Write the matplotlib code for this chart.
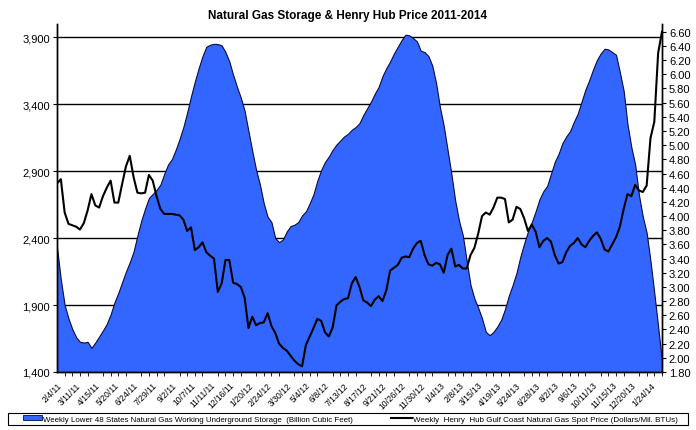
import numpy as np
import pandas as pd
import matplotlib
matplotlib.use("Agg")
import matplotlib.pyplot as plt
from matplotlib.ticker import FuncFormatter, MultipleLocator, FixedLocator
from matplotlib.patches import Patch, Rectangle
from matplotlib.lines import Line2D

plt.rcParams['font.family'] = ['Liberation Sans', 'DejaVu Sans']

# weekly dates, Fridays from 2/4/11 to 2/14/14
dates = pd.date_range('2011-02-04', '2014-02-14', freq='7D')

# working gas in storage, lower 48 (Bcf)
storage = [
    2330, 2090, 1900, 1800, 1720, 1660, 1625, 1620, 1625, 1580,
    1620, 1665, 1710, 1760, 1830, 1920, 1990, 2070, 2150, 2220,
    2300, 2420, 2530, 2620, 2700, 2730, 2760, 2800, 2880, 2950,
    2990, 3060, 3140, 3230, 3340, 3460, 3570, 3670, 3760, 3830,
    3845, 3852, 3850, 3840, 3790, 3720, 3620, 3530, 3450, 3350,
    3200, 3050, 2910, 2800, 2660, 2560, 2520, 2400, 2370, 2390,
    2450, 2490, 2500, 2520, 2570, 2600, 2660, 2730, 2830, 2910,
    2970, 3010, 3060, 3100, 3130, 3160, 3180, 3210, 3230, 3260,
    3320, 3370, 3420, 3480, 3530, 3610, 3670, 3720, 3780, 3830,
    3880, 3920, 3915, 3895, 3870, 3800, 3790, 3760, 3690, 3560,
    3380, 3240, 3060, 2880, 2680, 2530, 2420, 2230, 2050, 1950,
    1880, 1800, 1700, 1675, 1700, 1740, 1790, 1870, 1970, 2050,
    2140, 2260, 2360, 2450, 2520, 2600, 2690, 2750, 2790, 2880,
    2970, 3030, 3110, 3160, 3200, 3270, 3330, 3420, 3510, 3580,
    3660, 3730, 3780, 3815, 3810, 3790, 3770, 3640, 3500, 3250,
    3080, 2950, 2720, 2560, 2440, 2230, 1990, 1740, 1475,
]

# Henry Hub spot price ($/MMBtu)
price = [
    4.46, 4.52, 4.05, 3.89, 3.87, 3.85, 3.81, 3.90, 4.08, 4.31,
    4.15, 4.12, 4.28, 4.40, 4.50, 4.19, 4.19, 4.45, 4.70, 4.85,
    4.55, 4.33, 4.32, 4.33, 4.58, 4.50, 4.28, 4.10, 4.03, 4.03,
    4.03, 4.02, 4.01, 3.95, 3.79, 3.84, 3.52, 3.56, 3.63, 3.49,
    3.44, 3.40, 2.93, 3.05, 3.38, 3.38, 3.06, 3.04, 3.00, 2.85,
    2.42, 2.58, 2.46, 2.49, 2.50, 2.63, 2.45, 2.35, 2.20, 2.14,
    2.10, 2.03, 1.96, 1.91, 1.88, 2.18, 2.30, 2.42, 2.55, 2.52,
    2.36, 2.30, 2.43, 2.74, 2.79, 2.83, 2.84, 3.05, 3.14, 3.00,
    2.81, 2.78, 2.73, 2.82, 2.87, 2.80, 2.95, 3.23, 3.27, 3.31,
    3.41, 3.43, 3.42, 3.54, 3.62, 3.65, 3.45, 3.32, 3.30, 3.34,
    3.32, 3.20, 3.45, 3.54, 3.29, 3.31, 3.26, 3.26, 3.45, 3.55,
    3.75, 4.00, 4.05, 4.02, 4.12, 4.26, 4.26, 4.24, 3.91, 3.95,
    4.13, 4.10, 3.97, 3.79, 3.88, 3.78, 3.56, 3.65, 3.69, 3.64,
    3.45, 3.33, 3.35, 3.49, 3.58, 3.62, 3.69, 3.60, 3.56, 3.65,
    3.72, 3.77, 3.68, 3.53, 3.50, 3.60, 3.70, 3.85, 4.10, 4.31,
    4.28, 4.44, 4.36, 4.34, 4.43, 5.10, 5.33, 6.30, 6.60,
]

label_every = 5
tick_labels = ['%d/%d/%s' % (d.month, d.day, d.strftime('%y')) for d in dates]

x = np.arange(len(dates))

fig = plt.figure(figsize=(6.96, 4.31), dpi=100)
ax = fig.add_axes([0.0819, 0.1346, 0.8692, 0.8074])
ax2 = ax.twinx()

# storage area (left axis)
ax.fill_between(x, 1400, storage, facecolor='#3366FF', edgecolor='#0A0A40',
                linewidth=0.8, zorder=2)
ax.set_ylim(1400, 4000)
ax.set_xlim(0, len(x) - 1)
ax.yaxis.set_major_locator(FixedLocator([1400, 1900, 2400, 2900, 3400, 3900]))
ax.yaxis.set_major_formatter(FuncFormatter(lambda v, p: '{:,.0f}'.format(v)))
ax.grid(axis='y', color='black', linewidth=1.0, zorder=0)
ax.set_axisbelow(True)

# price line (right axis)
ax2.plot(x, price, color='black', linewidth=1.5, zorder=3)
ax2.set_ylim(1.80, 6.71)
ax2.yaxis.set_major_locator(MultipleLocator(0.20))
ax2.yaxis.set_major_formatter(FuncFormatter(lambda v, p: '%.2f' % v))

# x axis: label every 5 weeks, small ticks every 2 weeks
lab_pos = x[::label_every]
ax.set_xticks(lab_pos)
ax.set_xticklabels([tick_labels[i] for i in lab_pos], rotation=45, ha='right',
                   rotation_mode='anchor', fontsize=6.2)
ax.xaxis.set_minor_locator(MultipleLocator(2))
ax.tick_params(axis='x', which='major', length=0, pad=6)
ax.tick_params(axis='x', which='minor', length=3, direction='out')
ax.tick_params(axis='y', length=3, labelsize=8, pad=2)
ax2.tick_params(axis='y', length=3, labelsize=8, pad=2)

for a in (ax, ax2):
    a.spines['top'].set_visible(False)
    for s in ('left', 'right', 'bottom'):
        a.spines[s].set_linewidth(1.0)
        a.spines[s].set_color('black')

fig.text(0.5, 0.962, 'Natural Gas Storage & Henry Hub Price 2011-2014',
         ha='center', va='center', fontsize=8.5, fontweight='bold')

# legend: box drawn separately, entries placed inside
W, H = 696.0, 431.0
fig.patches.append(Rectangle((8 / W, 5 / H), 680 / W, 12 / H, transform=fig.transFigure,
                             facecolor='white', edgecolor='black', linewidth=0.8))
handles = [
    Patch(facecolor='#3366FF', edgecolor='#0A0A40', linewidth=0.6),
    Line2D([0], [0], color='black', linewidth=1.5),
]
labels = [
    'Weekly Lower 48 States Natural Gas Working Underground Storage  (Billion Cubic Feet)',
    'Weekly  Henry  Hub Gulf Coast Natural Gas Spot Price (Dollars/Mil. BTUs)',
]
leg1 = fig.legend(handles[:1], labels[:1], loc='center left',
                  bbox_to_anchor=(23 / W, 11 / H), fontsize=5.7, frameon=False,
                  borderpad=0, handlelength=2.4, handleheight=0.55,
                  handletextpad=0.15, borderaxespad=0)
leg2 = fig.legend(handles[1:], labels[1:], loc='center left',
                  bbox_to_anchor=(391 / W, 11 / H), fontsize=5.8, frameon=False,
                  borderpad=0, handlelength=2.6, handletextpad=0.15, borderaxespad=0)

fig.savefig('out.png', dpi=100)
